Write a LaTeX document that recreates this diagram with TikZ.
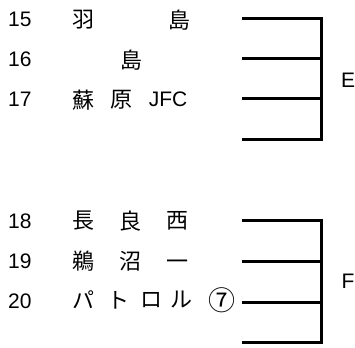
\documentclass[tikz,border=0pt]{standalone}
\usepackage{fontspec}
\setmainfont{Liberation Sans}
\newfontfamily\cjk{Noto Sans CJK JP}
\begin{document}
\begin{tikzpicture}[x=1pt,y=-1pt,
  num/.style={inner sep=0pt,anchor=west,font=\fontsize{21}{24}\selectfont},
  jc/.style={inner sep=0pt,anchor=center,font=\fontsize{22}{24}\selectfont\cjk},
  circ/.style={inner sep=0pt,anchor=center,font=\fontsize{27}{30}\selectfont\cjk},
  lat/.style={inner sep=0pt,anchor=center,font=\fontsize{21}{24}\selectfont},
  bracket/.style={line width=3pt,line cap=rect,line join=miter}]
\useasboundingbox (0,0) rectangle (355,347);
% row numbers
\node[num] (n15) at (8,19) {15};
\node[num] (n16) at (8,59) {16};
\node[num] (n17) at (8,99) {17};
\node[num] (n18) at (8,221) {18};
\node[num] (n19) at (8,261) {19};
\node[num] (n20) at (8,301) {20};
% names
\node[jc] (a1) at (83,20) {羽};
\node[jc] (a2) at (179,20) {島};
\node[jc] (b1) at (131,60) {島};
\node[jc] (c1) at (83,100) {蘇};
\node[jc] (c2) at (121,100) {原};
\node[lat] (c3) at (168,99) {JFC};
\node[jc] (d1) at (83,221) {長};
\node[jc] (d2) at (130,221) {良};
\node[jc] (d3) at (177,221) {西};
\node[jc] (e1) at (83,261) {鵜};
\node[jc] (e2) at (130,261) {沼};
\node[jc] (e3) at (177,265) {一};
\node[jc] (f1) at (83,300) {パ};
\node[jc] (f2) at (118,300) {ト};
\node[jc] (f3) at (151,300) {ロ};
\node[jc] (f4) at (181,300) {ル};
\node[circ] (f5) at (222,300) {⑦};
% bracket E
\coordinate (e15l) at (243,19);  \coordinate (e15r) at (321,19);
\coordinate (e16l) at (243,59);  \coordinate (e16r) at (321,59);
\coordinate (e17l) at (243,99);  \coordinate (e17r) at (321,99);
\coordinate (e18l) at (243,140); \coordinate (e18r) at (321,140);
\draw[bracket] (e15l) -- (e15r) -- (e18r) -- (e18l);
\draw[bracket] (e16l) -- (e16r);
\draw[bracket] (e17l) -- (e17r);
\node[lat] (E) at (348,80) {E};
% bracket F
\coordinate (f18l) at (243,220); \coordinate (f18r) at (321,220);
\coordinate (f19l) at (243,261); \coordinate (f19r) at (321,261);
\coordinate (f20l) at (243,302); \coordinate (f20r) at (321,302);
\coordinate (f21l) at (243,342); \coordinate (f21r) at (321,342);
\draw[bracket] (f18l) -- (f18r) -- (f21r) -- (f21l);
\draw[bracket] (f19l) -- (f19r);
\draw[bracket] (f20l) -- (f20r);
\node[lat] (F) at (348,281) {F};
\end{tikzpicture}
\end{document}
